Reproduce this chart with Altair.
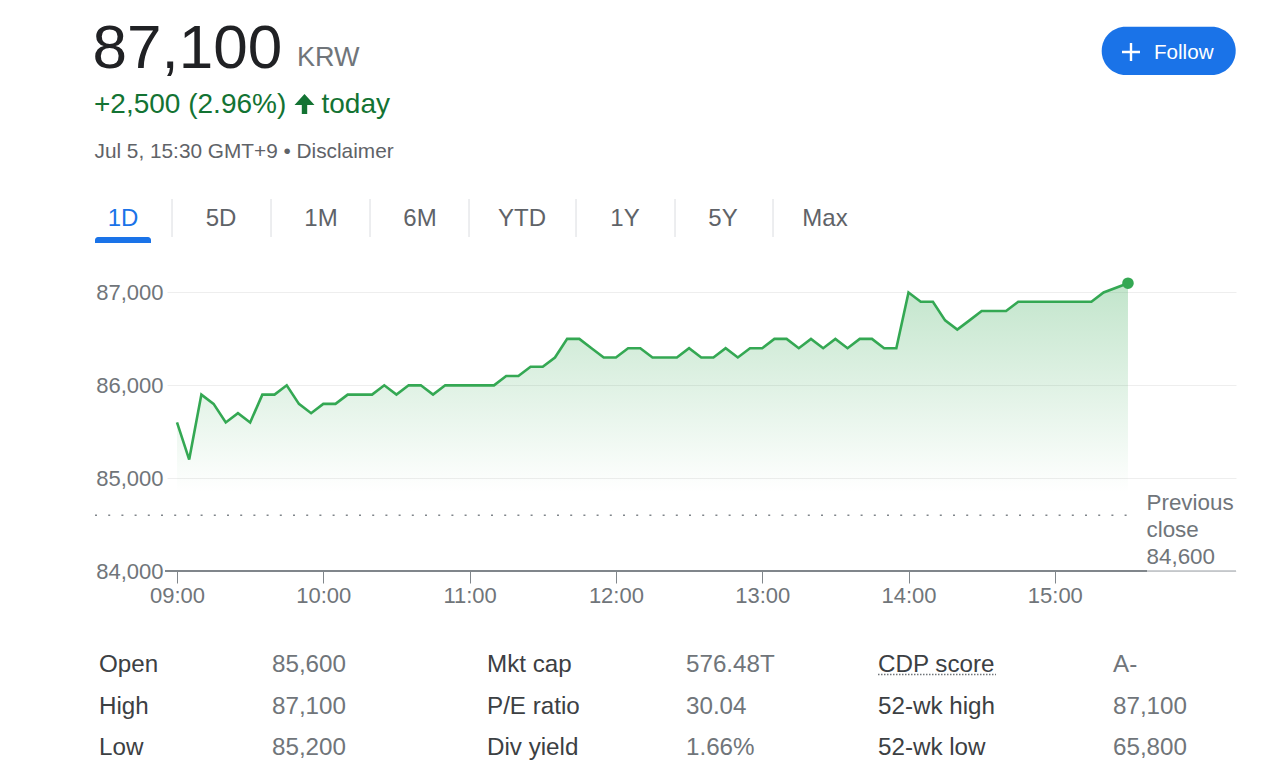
import altair as alt
import pandas as pd

# ---------------- data ----------------
TIMES = [
    "09:00", "09:05", "09:10", "09:15", "09:20", "09:25", "09:30", "09:35", "09:40", "09:45", "09:50", "09:55",
    "10:00", "10:05", "10:10", "10:15", "10:20", "10:25", "10:30", "10:35", "10:40", "10:45", "10:50", "10:55",
    "11:00", "11:05", "11:10", "11:15", "11:20", "11:25", "11:30", "11:35", "11:40", "11:45", "11:50", "11:55",
    "12:00", "12:05", "12:10", "12:15", "12:20", "12:25", "12:30", "12:35", "12:40", "12:45", "12:50", "12:55",
    "13:00", "13:05", "13:10", "13:15", "13:20", "13:25", "13:30", "13:35", "13:40", "13:45", "13:50", "13:55",
    "14:00", "14:05", "14:10", "14:15", "14:20", "14:25", "14:30", "14:35", "14:40", "14:45", "14:50", "14:55",
    "15:00", "15:05", "15:10", "15:15", "15:20", "15:30",
]
PRICES = [
    85600, 85200, 85900, 85800, 85600, 85700, 85600, 85900, 85900, 86000, 85800, 85700,
    85800, 85800, 85900, 85900, 85900, 86000, 85900, 86000, 86000, 85900, 86000, 86000,
    86000, 86000, 86000, 86100, 86100, 86200, 86200, 86300, 86500, 86500, 86400, 86300,
    86300, 86400, 86400, 86300, 86300, 86300, 86400, 86300, 86300, 86400, 86300, 86400,
    86400, 86500, 86500, 86400, 86500, 86400, 86500, 86400, 86500, 86500, 86400, 86400,
    87000, 86900, 86900, 86700, 86600, 86700, 86800, 86800, 86800, 86900, 86900, 86900,
    86900, 86900, 86900, 86900, 87000, 87100,
]
PREV_CLOSE = 84600
Y_TICKS = [84000, 85000, 86000, 87000]
X_TICKS = ["09:00", "10:00", "11:00", "12:00", "13:00", "14:00", "15:00"]

HEAD_PRICE = "87,100"
HEAD_CURRENCY = "KRW"
HEAD_CHANGE = "+2,500 (2.96%)"
HEAD_TODAY = "today"
HEAD_DATE = "Jul 5, 15:30 GMT+9 \u2022 Disclaimer"
TABS = ["1D", "5D", "1M", "6M", "YTD", "1Y", "5Y", "Max"]
FOLLOW = "Follow"
PREV_LABEL = ["Previous", "close", "84,600"]
STAT_LABELS_1 = ["Open", "High", "Low"]
STAT_VALUES_1 = ["85,600", "87,100", "85,200"]
STAT_LABELS_2 = ["Mkt cap", "P/E ratio", "Div yield"]
STAT_VALUES_2 = ["576.48T", "30.04", "1.66%"]
STAT_LABELS_3 = ["CDP score", "52-wk high", "52-wk low"]
STAT_VALUES_3 = ["A-", "87,100", "65,800"]


def to_min(t):
    h, m = t.split(":")
    return int(h) * 60 + int(m) - 540


df = pd.DataFrame({"minute": [to_min(t) for t in TIMES], "price": PRICES})
one = pd.DataFrame({"k": [0]})

# ---------------- style ----------------
FONT = "Liberation Sans"
GREEN = "#34a853"
GREY = "#70757a"
BLUE = "#1a73e8"

x_enc = alt.X(
    "minute:Q",
    title=None,
    scale=alt.Scale(domain=[-4.1, 434.3], nice=False, zero=False),
    axis=alt.Axis(
        values=[to_min(t) for t in X_TICKS],
        labelExpr="(datum.value/60 + 9 < 10 ? '0' : '') + (datum.value/60 + 9) + ':00'",
        domain=False, grid=False, ticks=True, tickSize=12, tickColor="#80868b", tickWidth=1,
        labelFontSize=22, labelColor=GREY, labelFont=FONT, labelPadding=2,
    ),
)
y_enc = alt.Y(
    "price:Q",
    title=None,
    scale=alt.Scale(domain=[84000, 87350], nice=False, zero=False),
    axis=alt.Axis(
        values=Y_TICKS, format=",.0f", domain=False, ticks=False, grid=True,
        gridColor="#eeeeee", gridWidth=1, labelFontSize=22, labelColor=GREY,
        labelFont=FONT, labelPadding=4,
    ),
)

gradient = alt.Gradient(
    gradient="linear",
    stops=[
        alt.GradientStop(color="rgba(52,168,83,0.30)", offset=0),
        alt.GradientStop(color="rgba(52,168,83,0.0)", offset=1),
    ],
    x1=1, x2=1, y1=0, y2=1,
)

area = alt.Chart(df).mark_area(color=gradient).encode(x=x_enc, y=y_enc, y2=alt.datum(84850))
prev_rule = alt.Chart(one).mark_rule(color="#80868b", strokeDash=[2, 11.2], strokeWidth=1.6).encode(
    y=alt.datum(PREV_CLOSE), x=alt.value(-72), x2=alt.value(968)
)
line = alt.Chart(df).mark_line(color=GREEN, strokeWidth=2.6).encode(x=x_enc, y=y_enc)
last_pt = alt.Chart(df.tail(1)).mark_circle(color=GREEN, size=135, opacity=1).encode(x=x_enc, y=y_enc)
axis_main = alt.Chart(one).mark_rule(color="#80868b", strokeWidth=2).encode(
    y=alt.datum(Y_TICKS[0]), x=alt.value(-2), x2=alt.value(980)
)
axis_tail = alt.Chart(one).mark_rule(color="#9aa0a6", strokeWidth=1.2).encode(
    y=alt.datum(Y_TICKS[0]), x=alt.value(980), x2=alt.value(1069)
)


def txt(text, x, y, size, color, align="left", baseline="alphabetic", line_height=None):
    kw = dict(text=text, fontSize=size, color=color, align=align, baseline=baseline, font=FONT)
    if line_height is not None:
        kw["lineHeight"] = line_height
    return alt.Chart(one).mark_text(**kw).encode(x=alt.value(x), y=alt.value(y))


layers = [area, prev_rule, line, last_pt, axis_main, axis_tail]

# header
layers.append(txt(HEAD_PRICE, -74.5, -191.7, 62, "#202124"))
layers.append(txt(HEAD_CURRENCY, 130, -194.3, 27, GREY))
layers.append(txt(HEAD_CHANGE, -73, -146.7, 28, "#137333"))
layers.append(
    alt.Chart(one).mark_point(
        shape="M0,-1L1,0.1L0.27,0.1L0.27,1L-0.27,1L-0.27,0.1L-1,0.1Z",
        filled=True, color="#137333", size=400, opacity=1, strokeWidth=0,
    ).encode(x=alt.value(137.5), y=alt.value(-156))
)
layers.append(txt(HEAD_TODAY, 154.5, -146.7, 28, "#137333"))
layers.append(txt(HEAD_DATE, -72.5, -101.7, 20.8, "#5f6368"))

# follow button
layers.append(
    alt.Chart(one).mark_rect(color=BLUE, cornerRadius=24).encode(
        x=alt.value(934.7), x2=alt.value(1068.7), y=alt.value(-233.3), y2=alt.value(-185)
    )
)
layers.append(
    alt.Chart(one).mark_point(
        shape="M-1,0L1,0M0,-1L0,1", filled=False, stroke="white", strokeWidth=2.4, size=324, opacity=1
    ).encode(x=alt.value(964), y=alt.value(-208))
)
layers.append(txt(FOLLOW, 987, -200.7, 20.6, "white"))

# tabs
TAB_X = [-44, 54, 154, 253, 355, 458, 556, 658]
for i, t in enumerate(TABS):
    layers.append(txt(t, TAB_X[i], -34, 24, BLUE if i == 0 else "#5f6368", align="center"))
for sx in [5, 104, 203, 302, 409, 508, 606]:
    layers.append(
        alt.Chart(one).mark_rule(color="#dadce0", strokeWidth=1).encode(
            x=alt.value(sx), y=alt.value(-61), y2=alt.value(-23)
        )
    )
layers.append(
    alt.Chart(one).mark_rect(color=BLUE, cornerRadiusTopLeft=4, cornerRadiusTopRight=4).encode(
        x=alt.value(-72), x2=alt.value(-16), y=alt.value(-23), y2=alt.value(-17)
    )
)

# previous close label
layers.append(txt(PREV_LABEL, 979.5, 250, 22.4, GREY, line_height=27))

# stats
STAT_X = [-68, 105, 320, 519, 711, 946]
cols = [STAT_LABELS_1, STAT_VALUES_1, STAT_LABELS_2, STAT_VALUES_2, STAT_LABELS_3, STAT_VALUES_3]
for i, col in enumerate(cols):
    layers.append(txt(col, STAT_X[i], 412.3, 24.2, "#3c4043" if i % 2 == 0 else GREY, line_height=41.4))
layers.append(
    alt.Chart(one).mark_rule(color=GREY, strokeDash=[1.5, 1.5], strokeWidth=1.5).encode(
        x=alt.value(711), x2=alt.value(829), y=alt.value(414.5)
    )
)

chart = alt.layer(*layers).properties(
    width=1069,
    height=311,
    autosize=alt.AutoSizeParams(type="none"),
    padding={"left": 167, "top": 260, "right": 39, "bottom": 211},
    background="white",
).configure_view(strokeWidth=0)

chart.save("out.html", embed_options={"renderer": "svg", "actions": False})
